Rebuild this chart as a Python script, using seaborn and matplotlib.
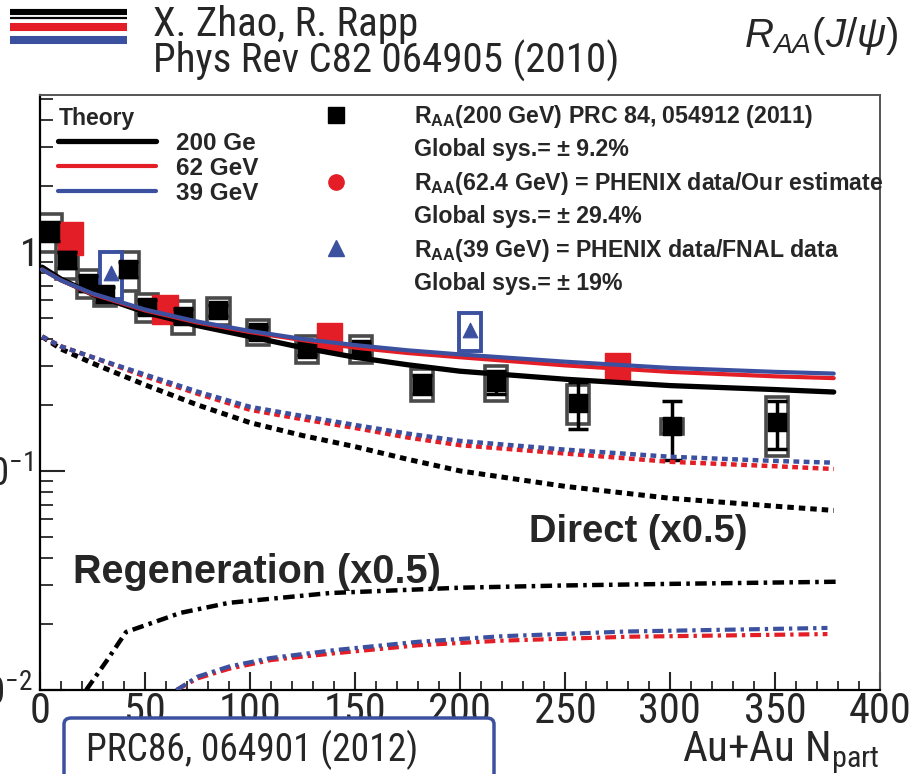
import numpy as np
import pandas as pd
import seaborn as sns
import matplotlib.pyplot as plt
import matplotlib.font_manager as fm
from matplotlib.font_manager import FontProperties
from matplotlib.lines import Line2D
from matplotlib.patches import FancyBboxPatch
from matplotlib.ticker import LogLocator, NullFormatter, MultipleLocator

# theory curves (Zhao & Rapp), x = Npart
theory_x = [1, 10, 25, 50, 75, 100, 125, 150, 175, 200, 250, 300, 350, 378]
total_200 = [0.85, 0.75, 0.64, 0.53, 0.46, 0.41, 0.365, 0.33, 0.305, 0.285, 0.262, 0.245, 0.235, 0.229]
total_62 = [0.83, 0.74, 0.64, 0.54, 0.475, 0.43, 0.395, 0.365, 0.345, 0.33, 0.303, 0.283, 0.27, 0.265]
total_39 = [0.83, 0.74, 0.645, 0.545, 0.48, 0.435, 0.40, 0.375, 0.355, 0.34, 0.315, 0.295, 0.283, 0.278]
direct_200 = [0.41, 0.36, 0.31, 0.247, 0.2, 0.166, 0.145, 0.129, 0.113, 0.1, 0.085, 0.075, 0.069, 0.066]
direct_62 = [0.41, 0.37, 0.33, 0.27, 0.225, 0.19, 0.172, 0.157, 0.142, 0.131, 0.12, 0.11, 0.105, 0.102]
direct_39 = [0.41, 0.37, 0.33, 0.275, 0.23, 0.196, 0.178, 0.162, 0.148, 0.137, 0.125, 0.116, 0.111, 0.109]

regen_x_200 = [22, 32, 41, 55, 67, 90, 138, 200, 250, 300, 380]
regen_200 = [0.01, 0.0137, 0.0184, 0.0205, 0.0225, 0.025, 0.0277, 0.0293, 0.030, 0.0305, 0.0312]
regen_x_low = [65, 75, 90, 110, 140, 180, 220, 280, 375]
regen_62 = [0.01, 0.0113, 0.0125, 0.0137, 0.0147, 0.016, 0.0168, 0.0175, 0.018]
regen_39 = [0.01, 0.0115, 0.0128, 0.014, 0.0152, 0.0166, 0.0176, 0.0185, 0.0192]

# PHENIX data
npart_200 = [5, 13, 23, 31, 42, 51, 68, 85, 104, 127, 153, 182, 217, 256, 301, 351]
raa_200 = [1.24, 0.92, 0.72, 0.64, 0.83, 0.56, 0.51, 0.54, 0.43, 0.36, 0.36, 0.25, 0.255, 0.205, 0.16, 0.167]
sys_200 = [0.2, 0.18, 0.15, 0.12, 0.2, 0.15, 0.17, 0.14, 0.13, 0.14, 0.14, 0.17, 0.18, 0.2, 0.08, 0.3]
stat_200 = [0.1, 0.08, 0.08, 0.08, 0.08, 0.07, 0.07, 0.06, 0.06, 0.06, 0.06, 0.1, 0.12, 0.24, 0.3, 0.25]

npart_62 = [14.5, 59.5, 138, 275]
raa_62 = [1.17, 0.55, 0.41, 0.30]
sys_62 = [0.17, 0.15, 0.15, 0.15]

npart_39 = [34, 205]
raa_39 = [0.80, 0.44]
sys_39 = [0.24, 0.2]

x_ticks = [0, 50, 100, 150, 200, 250, 300, 350, 400]
y_ticks = [0.01, 0.1, 1]
y_labels = ['$\\mathsf{10^{-2}}$', '$\\mathsf{10^{-1}}$', '$\\mathsf{1}\\,$']

RED = '#e41e26'
BLUE = '#3c50a0'
GRAY = '#4a4a4a'


def find_condensed():
    # slide text is a condensed sans; look for any installed condensed face
    order = ['Roboto Condensed', 'Liberation Sans Narrow', 'Open Sans Condensed', 'Noto Sans',
             'Open Sans', 'Roboto', 'DejaVu Sans']
    best, best_key = None, None
    for f in fm.fontManager.ttflist:
        fn = f.fname.lower().replace('-', '').replace('_', '')
        st = str(f.stretch).lower()
        cond = ('condensed' in st or 'narrow' in f.name.lower() or 'condensed' in f.name.lower()
                or 'condensed' in fn or 'narrow' in fn)
        if not cond or f.style != 'normal':
            continue
        w = f.weight if isinstance(f.weight, int) else {'normal': 400, 'regular': 400, 'book': 400}.get(str(f.weight).lower(), 700)
        if w != 400:
            continue
        if 'extra' in fn or 'ultra' in fn or 'extra' in st or 'ultra' in st:
            width_rank = 2
        elif 'semi' in fn or 'semi' in st:
            width_rank = 1
        else:
            width_rank = 0
        name_rank = order.index(f.name) if f.name in order else len(order)
        key = (width_rank, name_rank)
        if best_key is None or key < best_key:
            best, best_key = f, key
    return best


sns.set_style("white")
plt.rcParams['font.family'] = ['Liberation Sans', 'DejaVu Sans']
plt.rcParams['mathtext.fontset'] = 'custom'
plt.rcParams['mathtext.rm'] = 'Liberation Sans'
plt.rcParams['mathtext.bf'] = 'Liberation Sans:bold'
plt.rcParams['mathtext.it'] = 'Liberation Sans:italic'

cond = find_condensed()
if cond is not None:
    plt.rcParams['mathtext.sf'] = '%s:stretch=%s' % (cond.name, cond.stretch)
    k = 1.0
    def slide_fp(size):
        return FontProperties(fname=cond.fname, size=size)
else:
    plt.rcParams['mathtext.sf'] = 'Lato'
    k = 0.85
    def slide_fp(size):
        return FontProperties(family='Lato', size=size)

fig = plt.figure(figsize=(9.09, 7.74), dpi=100)
ax = fig.add_axes([0.044, 0.1085, 0.924, 0.769])
ax.set_yscale('log')

# theory totals
for ys, c, w in [(total_200, 'black', 3.8), (total_62, RED, 3.0), (total_39, BLUE, 3.0)]:
    sns.lineplot(x=theory_x, y=ys, color=c, lw=w, ax=ax, zorder=4)
tot_lines = list(ax.lines[:3])

# direct (x0.5)
for ys, c, w in [(direct_200, 'black', 3.6), (direct_62, RED, 3.2), (direct_39, BLUE, 3.2)]:
    sns.lineplot(x=theory_x, y=ys, color=c, lw=w, ax=ax, zorder=4, linestyle=(0, (1.3, 1.0)))

# regeneration (x0.5)
dashdot = (0, (2.6, 1.2, 0.8, 1.2))
sns.lineplot(x=regen_x_200, y=regen_200, color='black', lw=3.2, ax=ax, zorder=4, linestyle=dashdot)
sns.lineplot(x=regen_x_low, y=regen_62, color=RED, lw=3.0, ax=ax, zorder=4, linestyle=dashdot)
sns.lineplot(x=regen_x_low, y=regen_39, color=BLUE, lw=3.0, ax=ax, zorder=4, linestyle=dashdot)

# 200 GeV data: sys boxes, stat bars, markers
r200 = np.array(raa_200)
lo = r200 * (1 - np.array(sys_200))
hi = r200 * (1 + np.array(sys_200))
ax.bar(npart_200, hi - lo, bottom=lo, width=10.5, fill=False, edgecolor=GRAY, lw=2.6, zorder=2)
st = r200 * np.array(stat_200)
ax.errorbar(npart_200, r200, yerr=[st, st], fmt='none', ecolor='black', elinewidth=2.5,
            capsize=7, capthick=2.5, zorder=3)
sns.scatterplot(x=npart_200, y=raa_200, marker='s', s=165, color='black', edgecolor='black',
                ax=ax, zorder=3)

# 62 GeV data
r62 = np.array(raa_62)
lo = r62 * (1 - np.array(sys_62))
hi = r62 * (1 + np.array(sys_62))
ax.bar(npart_62, hi - lo, bottom=lo, width=12, color=RED, edgecolor=RED, lw=1, zorder=2.5)

# 39 GeV data
r39 = np.array(raa_39)
lo = r39 * (1 - np.array(sys_39))
hi = r39 * (1 + np.array(sys_39))
ax.bar(npart_39, hi - lo, bottom=lo, width=10.5, color='white', edgecolor=BLUE, lw=2.8, zorder=2.5)
sns.scatterplot(x=npart_39, y=raa_39, marker='^', s=110, color=BLUE, edgecolor=BLUE, ax=ax, zorder=2.6)

# axes
ax.set_xlim(0, 400)
ax.set_ylim(0.01, 5.2)
ax.set_yticks(y_ticks, labels=y_labels)
ax.yaxis.set_minor_locator(LogLocator(base=10, subs=np.arange(2, 10)))
ax.yaxis.set_minor_formatter(NullFormatter())
ax.set_xticks(x_ticks, labels=[str(v) for v in x_ticks], fontproperties=slide_fp(30.5 * k))
ax.xaxis.set_minor_locator(MultipleLocator(10))
ax.tick_params(axis='y', which='major', direction='in', length=18, width=1.5, labelsize=28, pad=5,
               left=True, right=False)
ax.tick_params(axis='y', which='minor', direction='in', length=9, width=1.3, left=True, right=False)
ax.tick_params(axis='x', which='major', direction='in', length=13, width=1.5, pad=1,
               bottom=True, top=False)
ax.tick_params(axis='x', which='minor', direction='in', length=6.5, width=1.3, bottom=True, top=False)
for side in ['left', 'bottom']:
    ax.spines[side].set_color('black')
    ax.spines[side].set_linewidth(1.6)
for side in ['top', 'right']:
    ax.spines[side].set_color('#555555')
    ax.spines[side].set_linewidth(1.4)
ax.grid(False)

ax.set_xlabel('Au+Au N$_{\\mathsf{part}}$', loc='right', fontproperties=slide_fp(31 * k), labelpad=-2)

# legends
leg1 = ax.legend(tot_lines, ['200 Ge', '62 GeV', '39 GeV'], title='Theory', loc='upper left',
                 bbox_to_anchor=(0.022, 0.98), frameon=False, borderpad=0, borderaxespad=0,
                 handlelength=4.0, handletextpad=0.85, labelspacing=0.08,
                 prop={'weight': 'bold', 'size': 17.5},
                 title_fontproperties={'weight': 'bold', 'size': 16.5}, alignment='left')
ax.add_artist(leg1)

blank = Line2D([], [], lw=0, marker=None)
handles2 = [Line2D([], [], lw=0, marker='s', ms=11, color='black'), blank,
            Line2D([], [], lw=0, marker='o', ms=11, color=RED), blank,
            Line2D([], [], lw=0, marker='^', ms=11, color=BLUE), blank]
labels2 = ['R$_{\\mathbf{AA}}$(200 GeV) PRC 84, 054912 (2011)', 'Global sys.= \u00b1 9.2%',
           'R$_{\\mathbf{AA}}$(62.4 GeV) = PHENIX data/Our estimate', 'Global sys.= \u00b1 29.4%',
           'R$_{\\mathbf{AA}}$(39 GeV) = PHENIX data/FNAL data', 'Global sys.= \u00b1 19%']
leg2 = ax.legend(handles2, labels2, loc='upper left', bbox_to_anchor=(0.329, 0.986), frameon=False,
                 borderpad=0, borderaxespad=0, handlelength=1.7, handletextpad=2.5,
                 labelspacing=0.36, prop={'weight': 'bold', 'size': 16.7})

ax.text(233, 0.0474, 'Direct (x0.5)', fontsize=27.5, fontweight='bold')
ax.text(15.7, 0.0308, 'Regeneration (x0.5)', fontsize=28.5, fontweight='bold')

# slide decorations
W, H = 909, 774
for y, c, w in [(12, 'black', 4.4), (18, 'black', 1.6), (26.7, RED, 5.8), (40, BLUE, 5.8)]:
    fig.add_artist(Line2D([10 / W, 127 / W], [1 - y / H] * 2, color=c, lw=w, solid_capstyle='butt'))
fig.text(153 / W, 1 - 36 / H, 'X. Zhao, R. Rapp', fontproperties=slide_fp(29.5 * k), va='baseline')
fig.text(153 / W, 1 - 73 / H, 'Phys Rev C82 064905 (2010)', fontproperties=slide_fp(29.5 * k), va='baseline')
fig.text(744 / W, 1 - 47 / H, '$R_{AA}(J/\\psi)$', fontsize=29, va='baseline')

box = FancyBboxPatch((64 / W, -0.03), (494 - 64) / W, (774 - 718) / H + 0.03,
                     boxstyle='round,pad=0,rounding_size=0.008', transform=fig.transFigure,
                     fc='white', ec=BLUE, lw=2.5)
fig.add_artist(box)
fig.text(86 / W, 1 - 761 / H, 'PRC86, 064901 (2012)', fontproperties=slide_fp(27 * k), va='baseline')

fig.savefig('out.png', dpi=100)
